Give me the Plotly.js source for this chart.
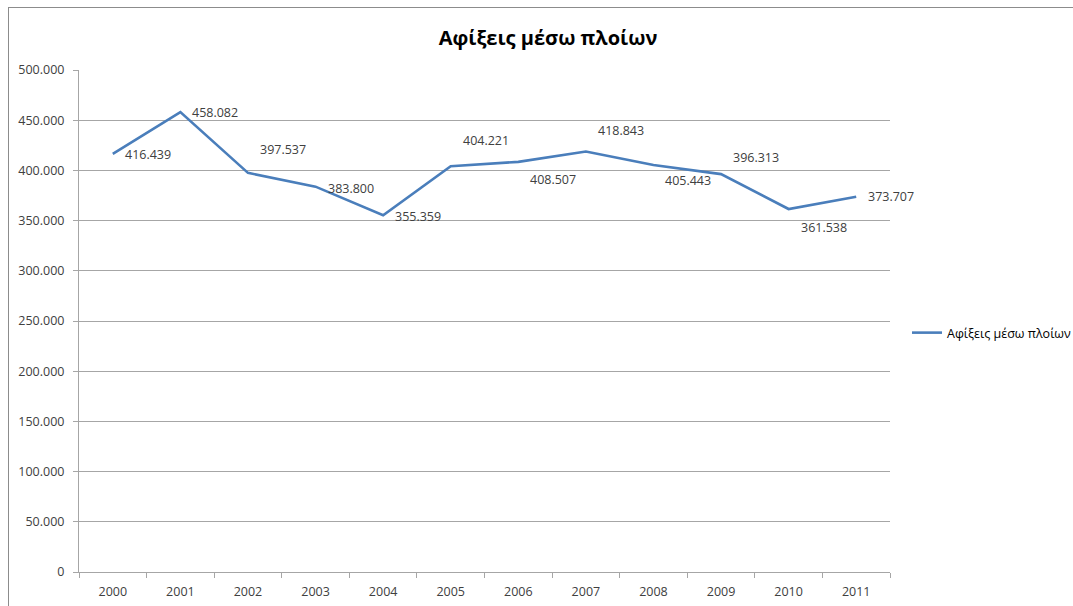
<!DOCTYPE html>
<html>
<head>
<meta charset="utf-8">
<script src="https://cdn.plot.ly/plotly-3.0.1.min.js"></script>
<style>
  html, body { margin: 0; padding: 0; background: #fff; }
  #wrap { position: relative; width: 1073px; height: 606px; overflow: hidden; }
  #chart { width: 1073px; height: 606px; }
  #frame { position: absolute; left: 8px; top: 7px; width: 1100px; height: 700px;
           border-left: 1px solid #8c8c8c; border-top: 1px solid #8c8c8c; pointer-events: none; }
</style>
</head>
<body>
<div id="wrap">
  <div id="chart"></div>
  <div id="frame"></div>
</div>
<script>
const years = ['2000','2001','2002','2003','2004','2005','2006','2007','2008','2009','2010','2011'];
const arrivals = [416439, 458082, 397537, 383800, 355359, 404221, 408507, 418843, 405443, 396313, 361538, 373707];
const labelText = ['416.439','458.082','397.537','383.800','355.359','404.221','408.507','418.843','405.443','396.313','361.538','373.707'];
const seriesName = 'Αφίξεις μέσω πλοίων';
const chartTitle = 'Αφίξεις μέσω πλοίων';
const yTicks = [0, 50000, 100000, 150000, 200000, 250000, 300000, 350000, 400000, 450000, 500000];

// label offsets (pixels) relative to each point
const labelDy = [-1, 0, 23, -2, -1, 26, -18, 21, -16, 17, -18, 0];

const font = "'Open Sans', 'Noto Sans', sans-serif";

const annotations = years.map((y, i) => ({
  x: i, y: arrivals[i], xref: 'x', yref: 'y',
  text: labelText[i], showarrow: false,
  xanchor: 'left', yanchor: 'middle',
  xshift: 10, yshift: labelDy[i],
  font: {family: font, size: 12.5, color: '#404040'}
}));

const trace = {
  x: years, y: arrivals, type: 'scatter', mode: 'lines', name: seriesName,
  line: {color: '#4a7ebb', width: 2.6}
};

const layout = {
  width: 1073, height: 606,
  margin: {l: 79, r: 183, t: 70, b: 34},
  paper_bgcolor: '#fff', plot_bgcolor: '#fff',
  separators: ',.',
  font: {family: font, size: 12.5, color: '#404040'},
  title: {
    text: '<b>' + chartTitle + '</b>',
    font: {family: font, size: 20, color: '#000'},
    xref: 'container', x: 548/1073, xanchor: 'center',
    yref: 'container', y: 1 - 38/606, yanchor: 'middle'
  },
  xaxis: {
    type: 'category', range: [-0.5, years.length - 0.5], autorange: false,
    tickson: 'boundaries', ticks: 'outside', ticklen: 5, tickangle: 0,
    tickcolor: '#a6a6a6', showline: true, linecolor: '#a6a6a6', linewidth: 1,
    showgrid: false, zeroline: false, fixedrange: true, automargin: false,
    ticklabelstandoff: 8,
    tickfont: {family: font, size: 12.5, color: '#404040'}
  },
  yaxis: {
    range: [0, 500000], autorange: false, tickvals: yTicks, tickformat: ',d',
    ticks: 'outside', ticklen: 5, tickcolor: '#a6a6a6',
    showline: true, linecolor: '#a6a6a6', linewidth: 1,
    showgrid: true, gridcolor: '#a6a6a6', gridwidth: 1,
    zeroline: false, ticklabelstandoff: 6, automargin: false,
    tickfont: {family: font, size: 12.5, color: '#404040'}
  },
  showlegend: true,
  legend: {
    xref: 'container', yref: 'container',
    x: 907 / 1073, xanchor: 'left', y: 1 - 333 / 606, yanchor: 'middle',
    font: {family: font, size: 12.5, color: '#000'},
    bgcolor: 'rgba(0,0,0,0)', borderwidth: 0
  },
  annotations: annotations
};

Plotly.newPlot('chart', [trace], layout, {staticPlot: true});
</script>
</body>
</html>
